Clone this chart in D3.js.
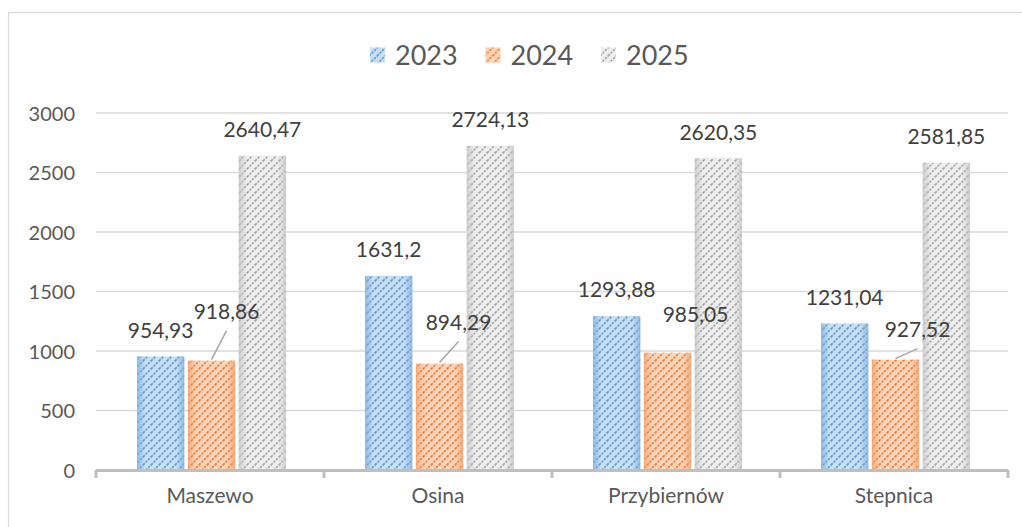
<!DOCTYPE html>
<html>
<head>
<meta charset="utf-8">
<script src="https://cdn.jsdelivr.net/npm/d3@7"></script>
<style>
  body { margin: 0; background: #fff; }
  text { font-family: Lato, "Open Sans", sans-serif; }
</style>
</head>
<body>
<div class="chart"></div>
<script>
let categories = ["Maszewo", "Osina", "Przybiernów", "Stepnica"];
let seriesNames = ["2023", "2024", "2025"];
let values2023 = [954.93, 1631.2, 1293.88, 1231.04];
let values2024 = [918.86, 894.29, 985.05, 927.52];
let values2025 = [2640.47, 2724.13, 2620.35, 2581.85];
let yTicks = [0, 500, 1000, 1500, 2000, 2500, 3000];

// labels Excel moved by hand (series, category, dx, dy, leader line)
let labelNudges = [
  { s: 1, c: 0, dx: 15, dy: -23, leader: true },
  { s: 1, c: 1, dx: 19, dy: -15, leader: true },
  { s: 1, c: 2, dx: 28, dy: -12, leader: false },
  { s: 1, c: 3, dx: 22, dy: -4, leader: true }
];

let svgWidth = 1022;
let svgHeight = 527;

let plot = { left: 96, right: 1008, top: 113, bottom: 470 };

let palette = [
  { bg: "#c9def2", line: "#5b9bd5", edge: "#7fb0e0" },
  { bg: "#fbd5bb", line: "#ed7d31", edge: "#f2a06a" },
  { bg: "#eeeeee", line: "#a5a5a5", edge: "#c4c4c4" }
];

let allValues = [values2023, values2024, values2025];

let svg = d3.select(".chart")
  .append("svg")
  .attr("width", svgWidth)
  .attr("height", svgHeight);

let defs = svg.append("defs");

palette.forEach(function(p, i) {
  let pat = defs.append("pattern")
    .attr("id", "hatch" + i)
    .attr("patternUnits", "userSpaceOnUse")
    .attr("width", 8)
    .attr("height", 8);
  pat.append("rect")
    .attr("width", 8)
    .attr("height", 8)
    .attr("fill", p.bg);
  pat.append("path")
    .attr("d", "M-1,9 L9,-1 M-1,1 L1,-1 M7,9 L9,7")
    .attr("stroke", p.line)
    .attr("stroke-width", 1.6)
    .attr("stroke-dasharray", "2.4,1.2");

  let grad = defs.append("linearGradient")
    .attr("id", "edge" + i)
    .attr("x1", "0%").attr("x2", "100%")
    .attr("y1", "0%").attr("y2", "0%");
  grad.append("stop").attr("offset", "0%").attr("stop-color", p.edge).attr("stop-opacity", 0.75);
  grad.append("stop").attr("offset", "18%").attr("stop-color", p.edge).attr("stop-opacity", 0);
  grad.append("stop").attr("offset", "82%").attr("stop-color", p.edge).attr("stop-opacity", 0);
  grad.append("stop").attr("offset", "100%").attr("stop-color", p.edge).attr("stop-opacity", 0.75);
});

// chart frame
svg.append("rect")
  .attr("x", 8.5)
  .attr("y", 12.5)
  .attr("width", 1100)
  .attr("height", 600)
  .attr("fill", "none")
  .attr("stroke", "#d9d9d9")
  .attr("stroke-width", 1.2);

let x0 = d3.scaleBand()
  .domain(categories)
  .range([plot.left, plot.right]);

let x1 = d3.scaleBand()
  .domain(seriesNames)
  .range([0, 149])
  .paddingInner(0.07);

let groupOffset = (x0.bandwidth() - 149) / 2 + 1.5;

let yLinearScale = d3.scaleLinear()
  .domain([0, 3000])
  .range([plot.bottom, plot.top]);

// gridlines
svg.append("g")
  .selectAll("line")
  .data(yTicks.slice(1))
  .enter()
  .append("line")
  .attr("x1", plot.left)
  .attr("x2", plot.right)
  .attr("y1", d => yLinearScale(d))
  .attr("y2", d => yLinearScale(d))
  .attr("stroke", "#d9d9d9")
  .attr("stroke-width", 1.5);

// y axis labels
let leftAxis = d3.axisLeft(yLinearScale)
  .tickValues(yTicks)
  .tickSize(0)
  .tickPadding(0)
  .tickFormat(d3.format("d"));

let yAxis = svg.append("g")
  .attr("transform", `translate(75, 0)`)
  .call(leftAxis);
yAxis.select(".domain").remove();
yAxis.selectAll("text")
  .attr("fill", "#595959")
  .style("font-size", "20px")
  .attr("dy", "0.35em");

// bars
seriesNames.forEach(function(name, s) {
  let g = svg.append("g");
  let data = allValues[s].map((v, c) => ({ cat: categories[c], value: v }));
  g.selectAll("rect.bar")
    .data(data)
    .enter()
    .append("rect")
    .classed("bar", true)
    .attr("x", d => x0(d.cat) + groupOffset + x1(name))
    .attr("y", d => yLinearScale(d.value))
    .attr("width", x1.bandwidth())
    .attr("height", d => plot.bottom - yLinearScale(d.value))
    .attr("fill", `url(#hatch${s})`);
  g.selectAll("rect.edge")
    .data(data)
    .enter()
    .append("rect")
    .classed("edge", true)
    .attr("x", d => x0(d.cat) + groupOffset + x1(name))
    .attr("y", d => yLinearScale(d.value))
    .attr("width", x1.bandwidth())
    .attr("height", d => plot.bottom - yLinearScale(d.value))
    .attr("fill", `url(#edge${s})`);
});

// x axis
let bottomAxis = d3.axisBottom(x0).tickSize(0).tickPadding(18);
let xAxis = svg.append("g")
  .attr("transform", `translate(0, ${plot.bottom})`)
  .call(bottomAxis);
xAxis.select(".domain").remove();
xAxis.selectAll("text")
  .attr("fill", "#595959")
  .style("font-size", "21px");

svg.append("line")
  .attr("x1", plot.left)
  .attr("x2", plot.right)
  .attr("y1", plot.bottom + 0.5)
  .attr("y2", plot.bottom + 0.5)
  .attr("stroke", "#bfbfbf")
  .attr("stroke-width", 3);

let boundaries = categories.map(c => x0(c)).concat([plot.right]);
svg.append("g")
  .selectAll("line")
  .data(boundaries)
  .enter()
  .append("line")
  .attr("x1", d => d)
  .attr("x2", d => d)
  .attr("y1", plot.bottom)
  .attr("y2", plot.bottom + 8)
  .attr("stroke", "#bfbfbf")
  .attr("stroke-width", 3);

// data labels
let labels = [];
seriesNames.forEach(function(name, s) {
  allValues[s].forEach(function(v, c) {
    let cx = x0(categories[c]) + groupOffset + x1(name) + x1.bandwidth() / 2;
    let top = yLinearScale(v);
    let nudge = labelNudges.find(n => n.s === s && n.c === c);
    labels.push({
      text: d3.format(".2~f")(v).replace(".", ","),
      barX: cx,
      barTop: top,
      x: cx + (nudge ? nudge.dx : 0),
      y: top - 26 + (nudge ? nudge.dy : 0),
      leader: nudge ? nudge.leader : false
    });
  });
});

svg.append("g")
  .selectAll("line")
  .data(labels.filter(d => d.leader))
  .enter()
  .append("line")
  .attr("x1", d => d.x)
  .attr("y1", d => d.y + 19)
  .attr("x2", d => d.barX)
  .attr("y2", d => d.barTop - 1)
  .attr("stroke", "#a6a6a6")
  .attr("stroke-width", 1.5);

svg.append("g")
  .selectAll("text")
  .data(labels)
  .enter()
  .append("text")
  .attr("x", d => d.x)
  .attr("y", d => d.y)
  .attr("dy", "0.35em")
  .attr("text-anchor", "middle")
  .attr("fill", "#404040")
  .style("font-size", "21px")
  .text(d => d.text);

// legend
let legend = svg.append("g")
  .attr("transform", "translate(370, 55)");
seriesNames.forEach(function(name, i) {
  let item = legend.append("g")
    .attr("transform", `translate(${i * 115.5}, 0)`);
  item.append("rect")
    .attr("x", 0)
    .attr("y", -7.5)
    .attr("width", 15)
    .attr("height", 15)
    .attr("fill", `url(#hatch${i})`);
  item.append("text")
    .attr("x", 25)
    .attr("y", 0)
    .attr("dy", "0.36em")
    .attr("fill", "#595959")
    .style("font-size", "27px")
    .text(name);
});
</script>
</body>
</html>
